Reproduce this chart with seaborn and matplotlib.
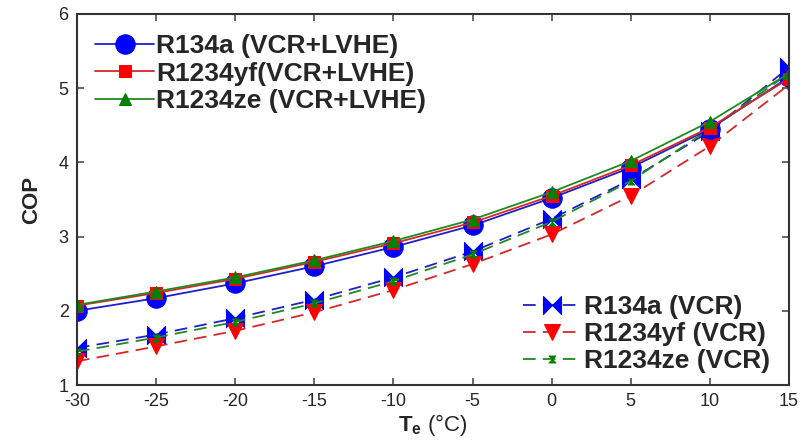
import numpy as np
import pandas as pd
import matplotlib
matplotlib.use("Agg")
import matplotlib.pyplot as plt
from matplotlib.path import Path
import seaborn as sns

te = [-30, -25, -20, -15, -10, -5, 0, 5, 10, 15]

r134a_lvhe = [2.00, 2.17, 2.37, 2.60, 2.86, 3.15, 3.52, 3.93, 4.45, 5.15]
r1234yf_lvhe = [2.07, 2.24, 2.43, 2.66, 2.91, 3.19, 3.55, 3.96, 4.47, 5.13]
r1234ze_lvhe = [2.08, 2.26, 2.45, 2.68, 2.94, 3.23, 3.60, 4.02, 4.55, 5.20]

r134a_vcr = [1.50, 1.68, 1.90, 2.15, 2.45, 2.80, 3.24, 3.77, 4.42, 5.28]
r1234yf_vcr = [1.32, 1.52, 1.73, 1.98, 2.28, 2.63, 3.03, 3.55, 4.22, 5.05]
r1234ze_vcr = [1.45, 1.64, 1.85, 2.10, 2.40, 2.76, 3.20, 3.75, 4.45, 5.20]

labels_lvhe = ["R134a (VCR+LVHE)", "R1234yf(VCR+LVHE)", "R1234ze (VCR+LVHE)"]
labels_vcr = ["R134a (VCR)", "R1234yf (VCR)", "R1234ze (VCR)"]

sns.set_theme(style="ticks")
plt.rcParams['font.family'] = ['Liberation Sans', 'DejaVu Sans']
plt.rcParams['axes.unicode_minus'] = False
plt.rcParams['mathtext.fontset'] = 'custom'
plt.rcParams['mathtext.bf'] = 'Liberation Sans:bold'
plt.rcParams['mathtext.rm'] = 'Liberation Sans'

bowtie = Path([(-1, -1), (0, 0), (-1, 1), (-1, -1), (1, -1), (0, 0), (1, 1), (1, -1)],
              [Path.MOVETO, Path.LINETO, Path.LINETO, Path.CLOSEPOLY,
               Path.MOVETO, Path.LINETO, Path.LINETO, Path.CLOSEPOLY])
hourglass = Path([(-1, 1), (0, 0), (1, 1), (-1, 1), (-1, -1), (0, 0), (1, -1), (-1, -1)],
                 [Path.MOVETO, Path.LINETO, Path.LINETO, Path.CLOSEPOLY,
                  Path.MOVETO, Path.LINETO, Path.LINETO, Path.CLOSEPOLY])

fig = plt.figure(figsize=(8.03, 4.48), dpi=100)
ax = fig.add_axes([0.0959, 0.1406, 0.8867, 0.8282])

blue, red, green = "#0000ff", "#ff0000", "#008000"
lblue, lred, lgreen = "#1f1fc8", "#d62828", "#208a20"

vcr_specs = [
    (r134a_vcr, lblue, blue, bowtie, 13),
    (r1234yf_vcr, lred, red, "v", 11),
    (r1234ze_vcr, lgreen, green, hourglass, 5),
]
lvhe_specs = [
    (r134a_lvhe, lblue, blue, "o", 14),
    (r1234yf_lvhe, lred, red, "s", 9),
    (r1234ze_lvhe, lgreen, green, "^", 8),
]

h_vcr = []
for (vals, lc, mc, mk, ms), lab in zip(vcr_specs, labels_vcr):
    sns.lineplot(x=te, y=vals, ax=ax, color=lc, linestyle=(0, (7, 4)), linewidth=1.3,
                 marker=mk, markersize=ms, markerfacecolor=mc, markeredgecolor=mc,
                 label=lab, legend=False)
    h_vcr.append(ax.lines[-1])

h_lvhe = []
for (vals, lc, mc, mk, ms), lab in zip(lvhe_specs, labels_lvhe):
    sns.lineplot(x=te, y=vals, ax=ax, color=lc, linestyle="-", linewidth=1.3,
                 marker=mk, markersize=ms, markerfacecolor=mc, markeredgecolor=mc,
                 label=lab, legend=False)
    h_lvhe.append(ax.lines[-1])

ax.set_xlim(-30, 15)
ax.set_ylim(1, 6)
ax.set_xticks(te)
ax.set_yticks([1, 2, 3, 4, 5, 6])
ax.tick_params(direction="in", top=True, right=True, labelsize=13, length=5,
               color="#555555", pad=6)
for s in ax.spines.values():
    s.set_color("#333333")
    s.set_linewidth(1.5)

ax.set_ylabel("COP", fontsize=16, fontweight="bold", labelpad=12)
ax.set_xlabel(r"$\mathbf{T_e}$ (°C)", fontsize=16, labelpad=1)

leg1 = ax.legend(handles=h_lvhe, labels=labels_lvhe, loc="upper left",
                 bbox_to_anchor=(0.0, 0.995), frameon=False,
                 prop={"weight": "bold", "size": 19}, handlelength=2.2,
                 handletextpad=0.1, labelspacing=0.13, borderaxespad=0.3)
ax.add_artist(leg1)
ax.legend(handles=h_vcr, labels=labels_vcr, loc="lower right",
          bbox_to_anchor=(0.99, 0.0), frameon=False,
          prop={"weight": "bold", "size": 19}, handlelength=2.2,
          handletextpad=0.1, labelspacing=0.12, borderaxespad=0.05)

fig.savefig("out.png", dpi=100)
